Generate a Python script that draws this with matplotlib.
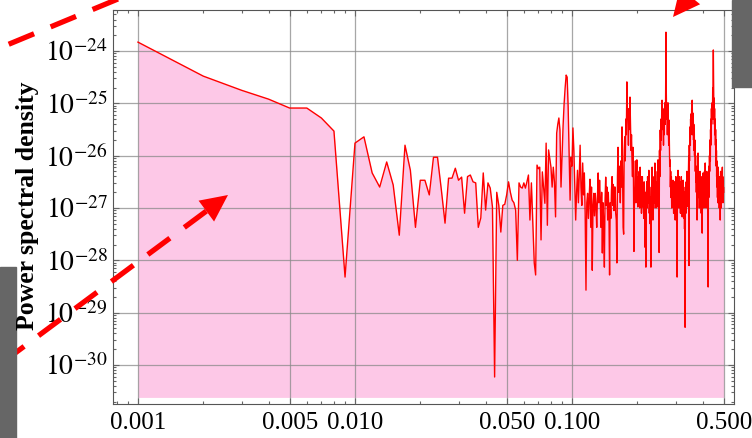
import numpy as np
import matplotlib
matplotlib.use("Agg")
import matplotlib.pyplot as plt
from matplotlib.ticker import FixedLocator, FixedFormatter, LogLocator, NullFormatter
from matplotlib.patches import Rectangle, Polygon
from matplotlib.lines import Line2D

# ---- data ----
# periodogram bins: frequency = bin_width * k, k = 1..N
bin_width = 0.001
# log10 of power spectral density for each bin
log_psd = [
    -23.83, -24.48, -24.75, -24.92, -25.09, -25.09, -25.28, -25.53, -28.32, -25.76,
    -25.64, -26.33, -26.60, -26.12, -26.56, -27.52, -25.80, -26.28, -27.37, -26.47,
    -26.47, -26.75, -26.03, -26.03, -26.65, -27.29, -26.43, -26.43, -26.24, -26.47,
    -26.41, -27.10, -26.40, -26.37, -26.50, -26.52, -27.37, -27.19, -26.33, -27.04,
    -26.52, -26.62, -26.98, -30.23, -26.70, -26.95, -27.46, -26.95, -26.93, -26.75,
    -26.50, -26.70, -26.85, -26.90, -27.04, -28.00, -26.52, -26.60, -26.62, -26.52,
    -26.62, -26.50, -26.37, -27.23, -26.52, -27.30, -28.05, -28.28, -26.18, -26.25,
    -26.22, -27.61, -26.31, -26.60, -26.91, -25.76, -27.33, -25.89, -26.05, -26.22,
    -26.60, -26.22, -26.50, -27.17, -25.57, -25.40, -25.28, -25.51, -26.60, -26.00,
    -25.42, -25.00, -24.70, -24.46, -24.50, -25.07, -25.95, -26.85, -26.03, -26.20,
    -25.47, -25.90, -26.60, -27.23, -26.70, -26.28, -26.90, -26.40, -25.80, -26.60,
    -26.95, -26.14, -26.75, -26.33, -27.10, -28.57, -26.90, -26.72, -27.20, -26.79,
    -26.45, -27.37, -26.60, -28.19, -26.95, -26.72, -27.15, -26.72, -26.95, -27.37,
    -26.80, -26.33, -26.90, -26.47, -26.85, -27.37, -26.70, -27.86, -26.90, -27.30,
    -28.13, -26.85, -26.41, -26.95, -26.60, -27.23, -26.70, -27.10, -28.28, -26.90,
    -27.20, -26.66, -26.40, -26.95, -26.55, -27.05, -26.60, -26.60, -27.10, -27.23,
    -28.05, -26.40, -25.84, -26.70, -26.20, -26.41, -26.90, -26.10, -26.60, -25.45,
    -26.30, -27.37, -27.50, -25.90, -25.64, -26.10, -25.30, -25.60, -24.59, -25.20,
    -25.32, -25.80, -25.10, -25.50, -24.88, -25.40, -25.90, -25.60, -26.08, -26.40,
    -25.84, -26.50, -27.83, -26.80, -26.60, -26.10, -26.90, -26.40, -26.08, -26.70,
    -26.98, -26.40, -26.80, -26.30, -27.00, -26.22, -26.70, -26.40, -27.10, -26.72,
    -26.40, -26.98, -26.60, -27.20, -26.50, -27.00, -27.75, -26.70, -28.13, -26.80,
    -26.50, -27.00, -26.40, -26.60, -26.90, -26.28, -27.10, -26.60, -27.30, -26.80,
    -28.13, -26.90, -26.50, -26.22, -26.80, -27.23, -26.60, -27.00, -26.40, -26.90,
    -26.14, -26.70, -26.30, -27.00, -26.50, -26.80, -26.98, -26.40, -26.08, -26.60,
    -26.20, -27.85, -25.90, -26.40, -25.51, -25.90, -25.30, -25.70, -25.20, -24.94,
    -25.50, -25.10, -25.32, -25.80, -25.20, -25.60, -25.10, -24.99, -25.40, -24.90,
    -23.64, -24.80, -25.30, -25.00, -25.60, -25.20, -24.99, -25.50, -25.80, -25.32,
    -25.70, -26.20, -26.08, -26.60, -26.30, -26.80, -26.40, -27.00, -26.98, -26.50,
    -26.90, -26.47, -26.80, -27.10, -26.60, -27.00, -26.50, -26.80, -27.23, -26.70,
    -26.40, -27.00, -26.60, -27.20, -28.32, -26.80, -26.50, -26.28, -26.90, -26.60,
    -27.00, -26.40, -26.80, -26.50, -26.72, -27.10, -26.60, -26.90, -26.40, -27.00,
    -26.70, -27.17, -26.80, -26.50, -26.47, -26.90, -26.60, -27.20, -26.70, -27.40,
    -26.80, -29.28, -26.90, -26.60, -27.10, -26.50, -26.80, -26.30, -26.47, -26.90,
    -26.40, -26.70, -26.98, -26.30, -26.00, -28.10, -25.80, -26.10, -25.60, -25.45,
    -25.80, -25.30, -25.60, -25.20, -25.50, -25.10, -25.40, -24.94, -25.30, -25.60,
    -25.20, -25.19, -25.70, -25.40, -25.90, -25.50, -26.00, -25.70, -25.84, -26.30,
    -26.00, -26.50, -26.20, -26.70, -26.30, -26.90, -27.23, -26.50, -26.20, -26.70,
    -25.95, -26.60, -26.30, -26.80, -26.40, -27.00, -26.50, -26.80, -26.30, -26.98,
    -26.50, -26.80, -26.40, -27.10, -26.60, -26.90, -26.50, -27.48, -26.80, -26.50,
    -26.90, -26.33, -26.70, -26.40, -27.00, -26.50, -26.80, -26.30, -26.60, -26.90,
    -26.14, -26.60, -26.90, -26.40, -27.00, -26.50, -26.80, -26.30, -26.90, -26.72,
    -26.40, -26.90, -26.60, -28.51, -26.70, -26.40, -26.80, -26.20, -26.50, -26.00,
    -26.30, -25.70, -25.84, -26.10, -25.50, -25.80, -25.30, -25.60, -25.10, -25.40,
    -25.00, -25.30, -24.99, -25.20, -24.70, -25.00, -24.50, -23.98, -24.60, -25.00,
    -25.30, -24.90, -25.40, -25.10, -25.60, -25.30, -25.45, -25.80, -25.50, -26.00,
    -25.70, -26.20, -25.90, -26.40, -26.10, -26.60, -26.33, -26.80, -26.40, -26.90,
    -26.50, -26.22, -26.70, -26.40, -26.90, -26.50, -27.00, -26.60, -26.90, -26.40,
    -26.80, -27.23, -26.60, -26.30, -26.80, -26.50, -27.00, -26.60, -26.90, -26.40,
    -26.70, -26.30, -26.22, -26.80, -26.40, -26.90, -26.50, -26.72, -26.60, -26.70,
]
fill_floor = 2.4e-31

x_ticks = [0.001, 0.005, 0.01, 0.05, 0.1, 0.5]
x_tick_labels = ["0.001", "0.005", "0.010", "0.050", "0.100", "0.500"]
y_ticks = [1e-30, 1e-29, 1e-28, 1e-27, 1e-26, 1e-25, 1e-24]
y_tick_labels = [r"$10^{-30}$", r"$10^{-29}$", r"$10^{-28}$", r"$10^{-27}$",
                 r"$10^{-26}$", r"$10^{-25}$", r"$10^{-24}$"]
y_label = "Power spectral density"

psd = 10 ** np.array(log_psd)
freq = bin_width * np.arange(1, len(psd) + 1)

plt.rcParams["font.family"] = ["Liberation Serif", "DejaVu Serif"]
plt.rcParams["mathtext.fontset"] = "stix"

W, H = 752, 438
fig = plt.figure(figsize=(W / 100, H / 100), dpi=100)
ax = fig.add_axes([113 / W, 34 / H, 621 / W, 394 / H])
ax.set_xscale("log")
ax.set_yscale("log")
ax.set_xlim(10 ** -3.115, 10 ** -0.2535)
ax.set_ylim(10 ** -30.746, 10 ** -23.216)

ax.fill_between(freq, psd, fill_floor, color="#fdc8e7", lw=0, zorder=1)
ax.plot(freq, psd, color="#ff0000", lw=1.0, zorder=2)

ax.set_axisbelow("line")
ax.grid(which="major", color="#8a8a8a", lw=0.9, alpha=0.75)

ax.xaxis.set_major_locator(FixedLocator(x_ticks))
ax.xaxis.set_major_formatter(FixedFormatter(x_tick_labels))
minor_x = [k * 10.0 ** d for d in (-4, -3, -2, -1) for k in (2, 3, 4, 6, 7, 8, 9)]
ax.xaxis.set_minor_locator(FixedLocator(minor_x))
ax.xaxis.set_minor_formatter(NullFormatter())
ax.yaxis.set_major_locator(FixedLocator(y_ticks))
ax.yaxis.set_major_formatter(FixedFormatter(y_tick_labels))
ax.yaxis.set_minor_locator(LogLocator(base=10, subs=np.arange(2, 10), numticks=100))
ax.yaxis.set_minor_formatter(NullFormatter())

ax.tick_params(which="both", direction="in", top=True, right=True, color="#666666", width=0.8)
ax.tick_params(which="major", length=4.5)
ax.tick_params(which="minor", length=2.5)
ax.tick_params(axis="x", which="major", labelsize=18, pad=6)
ax.tick_params(axis="y", which="major", labelsize=20, pad=4)
for s in ax.spines.values():
    s.set_color("#555555")
    s.set_linewidth(0.8)

fig.text(28 / W, 1 - 206 / H, y_label, rotation=90, ha="center", va="center",
         fontsize=18.5, fontweight="bold")

# ---- overlay decorations (pixel coordinates) ----
ov = fig.add_axes([0, 0, 1, 1])
ov.set_xlim(0, W)
ov.set_ylim(H, 0)
ov.axis("off")
ov.patch.set_alpha(0)

ov.add_patch(Rectangle((0, 267), 16, H - 267, color="#666666", zorder=5))
ov.add_patch(Rectangle((732, 0), 20, 87, color="#666666", zorder=5))


def dashed_arrow(tail, tip, head=True, hl=27, hw=13):
    tail = np.array(tail, float)
    tip = np.array(tip, float)
    d = tip - tail
    u = d / np.hypot(*d)
    p = np.array([-u[1], u[0]])
    base = tip - u * hl if head else tip
    ln = Line2D([base[0], tail[0]], [base[1], tail[1]], color="#ff0000", lw=3.8,
                dashes=(5.2, 3.4), solid_capstyle="butt", dash_capstyle="butt", zorder=4)
    ov.add_line(ln)
    if head:
        ov.add_patch(Polygon([tip, base + p * hw, base - p * hw], closed=True,
                             color="#ff0000", lw=0, zorder=4))


dashed_arrow((-10, 52), (130, -6), head=False)
dashed_arrow((-5, 368), (228, 195))
dashed_arrow((760, -90), (673, 17))

fig.savefig("out.png", dpi=100)
